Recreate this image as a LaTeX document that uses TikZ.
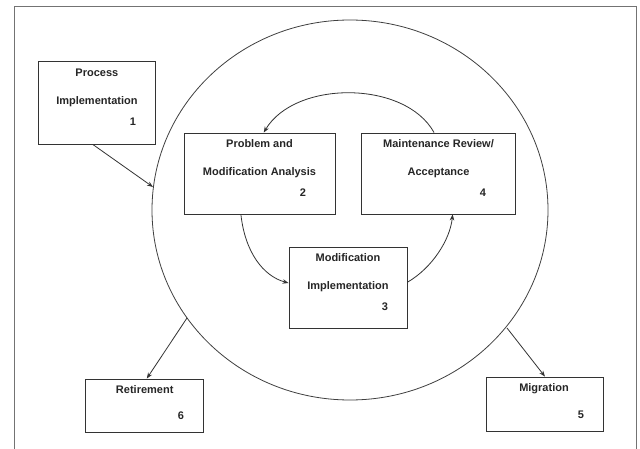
\documentclass[tikz,border=0pt]{standalone}
\usepackage{fontspec}
\setmainfont{Liberation Sans}
\usetikzlibrary{arrows.meta,calc}
\begin{document}
\begin{tikzpicture}[x=1pt,y=-1pt,
  box/.style={draw=black!80,line width=0.9pt,rectangle,inner sep=0pt},
  lbl/.style={anchor=mid,inner sep=0pt,font=\fontsize{11}{13}\selectfont\bfseries,text=black!85},
  conn/.style={draw=black!80,line width=0.8pt,-{Stealth[length=6pt,width=4.5pt]}},
  ln/.style={draw=black!75,line width=0.8pt}]
\useasboundingbox (0,0) rectangle (640,449);
\clip (0,0) rectangle (640,449);
\fill[white] (0,0) rectangle (640,449);
\draw[draw=black!55,line width=1pt] (14,7) rectangle (636,470);
% big ellipse
\coordinate (C) at (350,210);
\draw[ln] (C) ellipse [x radius=198, y radius=190];
% boxes
\node[box,minimum width=117.3pt,minimum height=82.3pt] (b1) at (97,102.9) {};
\node[box,minimum width=151.5pt,minimum height=81pt] (b2) at (259.8,173.5) {};
\node[box,minimum width=154pt,minimum height=81pt] (b4) at (438.7,173.5) {};
\node[box,minimum width=118pt,minimum height=80.3pt] (b3) at (348,287.9) {};
\node[box,minimum width=117.2pt,minimum height=53.7pt] (b6) at (144.4,405.9) {};
\node[box,minimum width=117pt,minimum height=54pt] (b5) at (544.5,404) {};
% labels
\node[lbl] (t1a) at (96.9,74) {Process};
\node[lbl] (t1b) at (96.9,102) {Implementation};
\node[lbl] (t1c) at (133,123) {1};
\node[lbl] (t2a) at (259.5,145) {Problem and};
\node[lbl] (t2b) at (259.5,173) {Modification Analysis};
\node[lbl] (t2c) at (303,194) {2};
\node[lbl] (t4a) at (438.5,145) {Maintenance Review/};
\node[lbl] (t4b) at (438.5,173) {Acceptance};
\node[lbl] (t4c) at (483,194) {4};
\node[lbl] (t3a) at (348,259) {Modification};
\node[lbl] (t3b) at (348,287) {Implementation};
\node[lbl] (t3c) at (385,308) {3};
\node[lbl] (t6a) at (144.7,391) {Retirement};
\node[lbl] (t6c) at (181,416.7) {6};
\node[lbl] (t5a) at (544,389) {Migration};
\node[lbl] (t5c) at (581,415.7) {5};
% points on ellipse
\coordinate (e1) at (153,187);
\coordinate (e6) at (187,318);
\coordinate (e5) at (507,328);
% connectors
\draw[conn] ($(b1.south west)!0.465!(b1.south east)$) -- (e1);
\draw[conn] ($(b4.north west)!0.47!(b4.north east)$) .. controls (405,80) and (295,80) .. ($(b2.north west)!0.526!(b2.north east)$);
\draw[conn] ($(b2.south west)!0.376!(b2.south east)$) .. controls (245,252) and (263,276) .. ($(b3.north west)!0.44!(b3.south west)$);
\draw[conn] ($(b3.north east)!0.43!(b3.south east)$) .. controls (432,268) and (450,240) .. ($(b4.south west)!0.59!(b4.south east)$);
\draw[conn] (e6) -- ($(b6.north west)!0.52!(b6.north east)$);
\draw[conn] (e5) -- ($(b5.north west)!0.504!(b5.north east)$);
\end{tikzpicture}
\end{document}
